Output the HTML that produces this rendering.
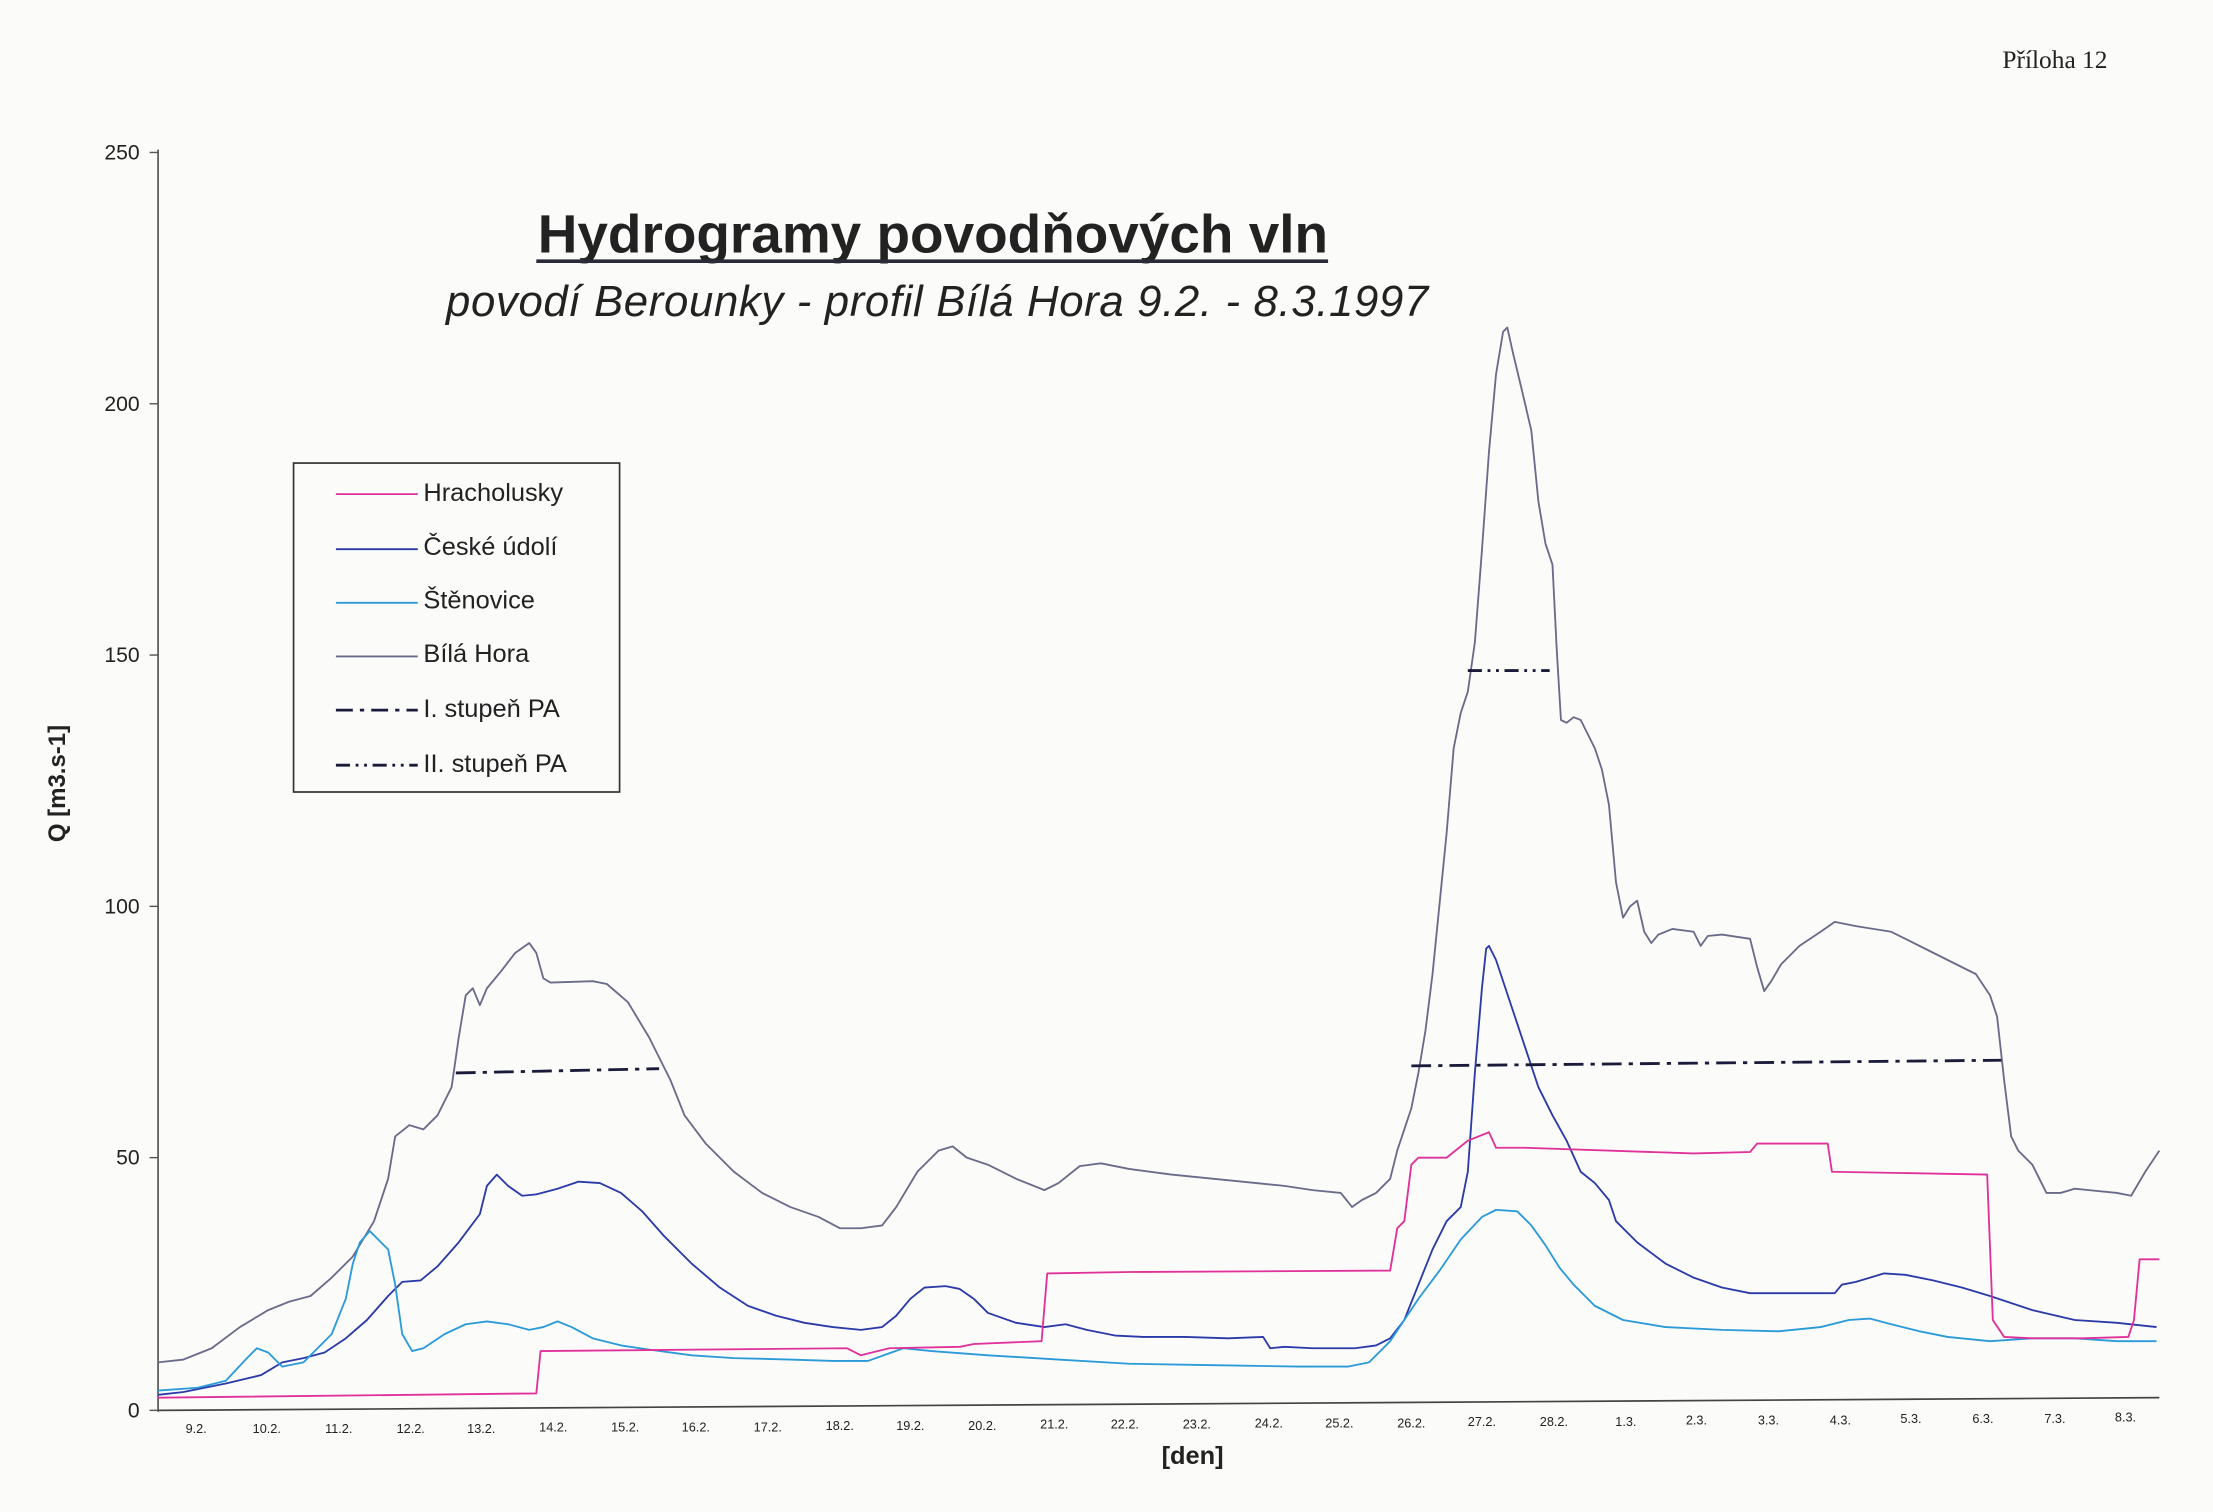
<!DOCTYPE html>
<html><head><meta charset="utf-8"><style>
html,body{margin:0;padding:0;background:#fbfbfa;}
svg{display:block;}
text{font-family:"Liberation Sans",sans-serif;fill:#222;}
</style></head><body>
<svg width="2213" height="1512" viewBox="0 0 1568 1071" preserveAspectRatio="none" xmlns="http://www.w3.org/2000/svg">
<rect width="1568" height="1071" fill="#fbfbfa"/>
<text x="1456" y="48" font-family="Liberation Serif" font-size="18" text-anchor="middle" style="font-family:'Liberation Serif',serif">Příloha 12</text>
<text x="381" y="179" font-size="38" font-weight="bold" fill="#2a2a3a" textLength="560" lengthAdjust="spacingAndGlyphs">Hydrogramy povodňových vln</text>
<line x1="380" y1="185" x2="941" y2="185" stroke="#2a2a3a" stroke-width="2.5"/>
<text x="316" y="224" font-size="31" font-style="italic" fill="#2a2a3a" textLength="696" lengthAdjust="spacing">povodí Berounky - profil Bílá Hora  9.2. - 8.3.1997</text>
<!-- axes -->
<line x1="112" y1="106" x2="112" y2="1000" stroke="#555" stroke-width="1.2"/>
<line x1="112" y1="999" x2="1530" y2="990" stroke="#444" stroke-width="1.2"/>
<g stroke="#555" stroke-width="1">
<line x1="106" y1="108" x2="112" y2="108"/><line x1="106" y1="286" x2="112" y2="286"/><line x1="106" y1="464" x2="112" y2="464"/><line x1="106" y1="642" x2="112" y2="642"/><line x1="106" y1="820" x2="112" y2="820"/><line x1="106" y1="999" x2="112" y2="999"/>
</g>
<g font-size="15" text-anchor="end">
<text x="99" y="113">250</text><text x="99" y="291">200</text><text x="99" y="469">150</text><text x="99" y="647">100</text><text x="99" y="825">50</text><text x="99" y="1004">0</text>
</g>
<text transform="translate(46,555) rotate(-90)" font-size="17" font-weight="bold" text-anchor="middle">Q [m3.s-1]</text>
<text x="845" y="1037" font-size="18" font-weight="bold" text-anchor="middle">[den]</text>
<g font-size="9" text-anchor="middle">
<text x="139" y="1015">9.2.</text><text x="189" y="1015">10.2.</text><text x="240" y="1015">11.2.</text><text x="291" y="1015">12.2.</text><text x="341" y="1015">13.2.</text><text x="392" y="1014">14.2.</text><text x="443" y="1014">15.2.</text><text x="493" y="1014">16.2.</text><text x="544" y="1014">17.2.</text><text x="595" y="1013">18.2.</text><text x="645" y="1013">19.2.</text><text x="696" y="1013">20.2.</text><text x="747" y="1012">21.2.</text><text x="797" y="1012">22.2.</text><text x="848" y="1012">23.2.</text><text x="899" y="1011">24.2.</text><text x="949" y="1011">25.2.</text><text x="1000" y="1011">26.2.</text><text x="1050" y="1010">27.2.</text><text x="1101" y="1010">28.2.</text><text x="1152" y="1010">1.3.</text><text x="1202" y="1009">2.3.</text><text x="1253" y="1009">3.3.</text><text x="1304" y="1009">4.3.</text><text x="1354" y="1008">5.3.</text><text x="1405" y="1008">6.3.</text><text x="1456" y="1008">7.3.</text><text x="1506" y="1007">8.3.</text>
</g>
<g fill="none" stroke-width="1.3" stroke-linejoin="round">
<polyline stroke="#6a6a8a" points="112,965 130,963 150,955 170,940 190,928 205,922 220,918 235,905 250,890 265,865 275,835 280,805 290,797 300,800 310,790 320,770 325,735 330,705 335,700 340,712 345,700 355,688 365,675 375,668 380,675 385,693 390,696 420,695 430,697 445,710 460,735 475,765 485,790 500,810 520,830 540,845 560,855 580,862 595,870 610,870 625,868 635,855 650,830 665,815 675,812 685,820 700,825 720,835 740,843 750,838 765,826 780,824 800,828 830,832 860,835 890,838 910,840 930,843 950,845 958,855 965,850 975,845 985,835 990,815 995,800 1000,785 1005,760 1010,730 1015,690 1020,640 1025,590 1030,530 1035,505 1040,490 1045,455 1050,390 1055,320 1060,265 1065,235 1068,232 1072,250 1078,275 1085,305 1090,355 1095,385 1100,400 1103,460 1106,510 1110,512 1115,508 1120,510 1125,520 1130,530 1135,545 1140,570 1145,625 1150,650 1155,642 1160,638 1165,660 1170,668 1175,662 1185,658 1200,660 1205,670 1210,663 1220,662 1240,665 1245,685 1250,702 1255,695 1262,683 1275,670 1290,660 1300,653 1315,656 1340,660 1360,670 1380,680 1400,690 1410,705 1415,720 1420,765 1425,805 1430,815 1440,825 1450,845 1460,845 1470,842 1480,843 1500,845 1510,847 1520,830 1530,815"/>
<polyline stroke="#2a3aa8" points="112,988 130,986 160,980 185,974 200,965 215,962 230,958 245,948 260,935 275,918 285,908 298,907 310,897 325,880 340,860 345,840 352,832 360,840 370,847 380,846 395,842 410,837 425,838 440,845 455,858 470,875 490,895 510,912 530,925 550,932 570,937 590,940 610,942 625,940 635,932 645,920 655,912 670,911 680,913 690,920 700,930 720,937 740,940 755,938 770,942 790,946 810,947 840,947 870,948 895,947 900,955 910,954 930,955 960,955 975,953 985,948 995,935 1005,910 1015,885 1025,865 1035,855 1040,830 1045,760 1050,700 1053,672 1055,670 1060,680 1070,710 1080,740 1090,770 1100,790 1110,808 1120,830 1130,838 1140,850 1145,865 1160,880 1180,895 1200,905 1220,912 1240,916 1270,916 1300,916 1305,910 1315,908 1335,902 1350,903 1370,907 1390,912 1410,918 1440,928 1470,935 1500,937 1528,940"/>
<polyline stroke="#2a9ad8" points="112,985 140,983 160,978 175,962 182,955 190,958 200,968 215,965 225,955 235,945 245,920 250,895 255,880 262,872 270,880 275,885 280,910 285,945 292,957 300,955 315,945 330,938 345,936 360,938 375,942 385,940 395,936 405,940 420,948 440,953 460,956 490,960 520,962 560,963 590,964 615,964 640,955 660,957 700,960 750,963 800,966 860,967 920,968 955,968 970,965 985,950 995,935 1005,920 1020,900 1035,878 1050,862 1060,857 1075,858 1085,868 1095,882 1105,898 1115,910 1130,925 1150,935 1180,940 1220,942 1260,943 1290,940 1310,935 1325,934 1340,938 1360,943 1380,947 1410,950 1440,948 1470,948 1500,950 1528,950"/>
<polyline stroke="#e0309a" points="112,990 380,987 383,957 600,955 610,960 630,955 680,954 690,952 738,950 742,902 800,901 985,900 990,870 995,865 1000,825 1005,820 1025,820 1040,808 1055,802 1060,813 1080,813 1200,817 1240,816 1245,810 1295,810 1298,830 1408,832 1412,935 1420,947 1440,948 1475,948 1508,947 1512,935 1516,892 1530,892"/>
</g>
<g stroke="#1a1a3a" stroke-width="2" fill="none">
<line x1="323" y1="760" x2="467" y2="757" stroke-dasharray="14,5,3,5"/>
<line x1="1000" y1="755" x2="1418" y2="751" stroke-dasharray="14,5,3,5"/>
<line x1="1040" y1="475" x2="1098" y2="475" stroke-dasharray="10,4,2,4,2,4"/>
</g>
<!-- legend -->
<rect x="208" y="328" width="231" height="233" fill="#fbfbfa" stroke="#333" stroke-width="1.2"/>
<g stroke-width="1.3">
<line x1="238" y1="350" x2="296" y2="350" stroke="#e0309a"/>
<line x1="238" y1="389" x2="296" y2="389" stroke="#2a3aa8"/>
<line x1="238" y1="427" x2="296" y2="427" stroke="#2a9ad8"/>
<line x1="238" y1="465" x2="296" y2="465" stroke="#6a6a8a"/>
<line x1="238" y1="503" x2="296" y2="503" stroke="#1a1a3a" stroke-width="2" stroke-dasharray="12,5,3,5"/>
<line x1="238" y1="542" x2="296" y2="542" stroke="#1a1a3a" stroke-width="2" stroke-dasharray="10,4,2,4,2,4"/>
</g>
<g font-size="18">
<text x="300" y="355">Hracholusky</text>
<text x="300" y="393">České údolí</text>
<text x="300" y="431">Štěnovice</text>
<text x="300" y="469">Bílá Hora</text>
<text x="300" y="508">I. stupeň PA</text>
<text x="300" y="547">II. stupeň PA</text>
</g>
</svg>
</body></html>
